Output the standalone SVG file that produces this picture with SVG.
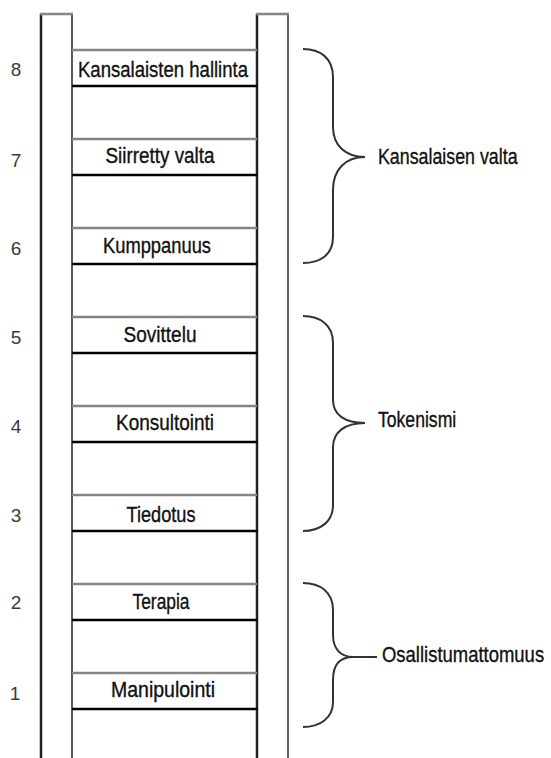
<svg xmlns="http://www.w3.org/2000/svg" width="551" height="758" viewBox="0 0 551 758">
<style>
.num{font-family:"Liberation Sans",Arial,sans-serif;font-size:19px;fill:#3a3a3a;text-anchor:middle}
.lbl{font-family:"Liberation Sans",Arial,sans-serif;font-size:22px;fill:#111;stroke:#111;stroke-width:0.35;text-anchor:middle}
.grp{font-family:"Liberation Sans",Arial,sans-serif;font-size:22px;fill:#111;stroke:#111;stroke-width:0.35}
.rt{stroke:#858585;stroke-width:2.5}
.rb{stroke:#000;stroke-width:2.5}
.brace{fill:none;stroke:#333;stroke-width:2}
</style>
<rect width="551" height="758" fill="#fff"/>
<g id="rails">
<line x1="41" y1="14" x2="41" y2="758" stroke="#222" stroke-width="2.5"/>
<line x1="72" y1="14" x2="72" y2="758" stroke="#222" stroke-width="1.5"/>
<line x1="40" y1="14" x2="73" y2="14" stroke="#858585" stroke-width="2.5"/>
<line x1="257" y1="14" x2="257" y2="758" stroke="#222" stroke-width="2.5"/>
<line x1="288" y1="14" x2="288" y2="758" stroke="#333" stroke-width="1.5"/>
<line x1="256" y1="14" x2="289" y2="14" stroke="#858585" stroke-width="2.5"/>
</g>
<g id="rung8"><line class="rt" x1="72" y1="50" x2="257" y2="50"/><line class="rb" x1="72" y1="86" x2="257" y2="86"/><text class="lbl" x="163" y="77" textLength="170" lengthAdjust="spacingAndGlyphs">Kansalaisten hallinta</text><text class="num" x="16" y="76">8</text></g>
<g id="rung7"><line class="rt" x1="72" y1="139" x2="257" y2="139"/><line class="rb" x1="72" y1="175" x2="257" y2="175"/><text class="lbl" x="160" y="163" textLength="109" lengthAdjust="spacingAndGlyphs">Siirretty valta</text><text class="num" x="16" y="167">7</text></g>
<g id="rung6"><line class="rt" x1="72" y1="228" x2="257" y2="228"/><line class="rb" x1="72" y1="264" x2="257" y2="264"/><text class="lbl" x="157" y="253" textLength="108" lengthAdjust="spacingAndGlyphs">Kumppanuus</text><text class="num" x="16" y="255">6</text></g>
<g id="rung5"><line class="rt" x1="72" y1="317" x2="257" y2="317"/><line class="rb" x1="72" y1="353" x2="257" y2="353"/><text class="lbl" x="160" y="342" textLength="73" lengthAdjust="spacingAndGlyphs">Sovittelu</text><text class="num" x="16" y="344">5</text></g>
<g id="rung4"><line class="rt" x1="72" y1="406" x2="257" y2="406"/><line class="rb" x1="72" y1="442" x2="257" y2="442"/><text class="lbl" x="165" y="430" textLength="98" lengthAdjust="spacingAndGlyphs">Konsultointi</text><text class="num" x="16" y="433">4</text></g>
<g id="rung3"><line class="rt" x1="72" y1="495" x2="257" y2="495"/><line class="rb" x1="72" y1="531" x2="257" y2="531"/><text class="lbl" x="161" y="522" textLength="69" lengthAdjust="spacingAndGlyphs">Tiedotus</text><text class="num" x="16" y="522">3</text></g>
<g id="rung2"><line class="rt" x1="72" y1="584" x2="257" y2="584"/><line class="rb" x1="72" y1="620" x2="257" y2="620"/><text class="lbl" x="161" y="609" textLength="57" lengthAdjust="spacingAndGlyphs">Terapia</text><text class="num" x="16" y="609">2</text></g>
<g id="rung1"><line class="rt" x1="72" y1="673" x2="257" y2="673"/><line class="rb" x1="72" y1="709" x2="257" y2="709"/><text class="lbl" x="163" y="697" textLength="104" lengthAdjust="spacingAndGlyphs">Manipulointi</text><text class="num" x="15" y="700">1</text></g>
<g id="connectors">
<g id="brace-kansalaisen"><path class="brace" d="M303,49 C320,49 333,58 333,77 L333,127 C333,145 345,157 365,157 C345,157 333,170 333,190 L333,237 C333,255 320,263 303,263"/></g>
<g id="brace-tokenismi"><path class="brace" d="M303,316 C320,316 333,325 333,343 L333,400 C333,415 345,423 365,423 C345,423 333,432 333,447 L333,505 C333,522 320,531 303,531"/></g>
<g id="brace-osallistumattomuus"><path class="brace" d="M303,583 C320,583 333,592 333,610 L333,635 C333,648 340,657 353,657 C340,657 333,665 333,680 L333,702 C333,718 320,727 303,727 M353,657 L377,657"/></g>
</g>
<g id="group-labels">
<text class="grp" transform="translate(378,164) scale(0.81,1)">Kansalaisen valta</text>
<text class="grp" transform="translate(378,427) scale(0.8,1)">Tokenismi</text>
<text class="grp" transform="translate(382,662) scale(0.84,1)">Osallistumattomuus</text>
</g>
</svg>
